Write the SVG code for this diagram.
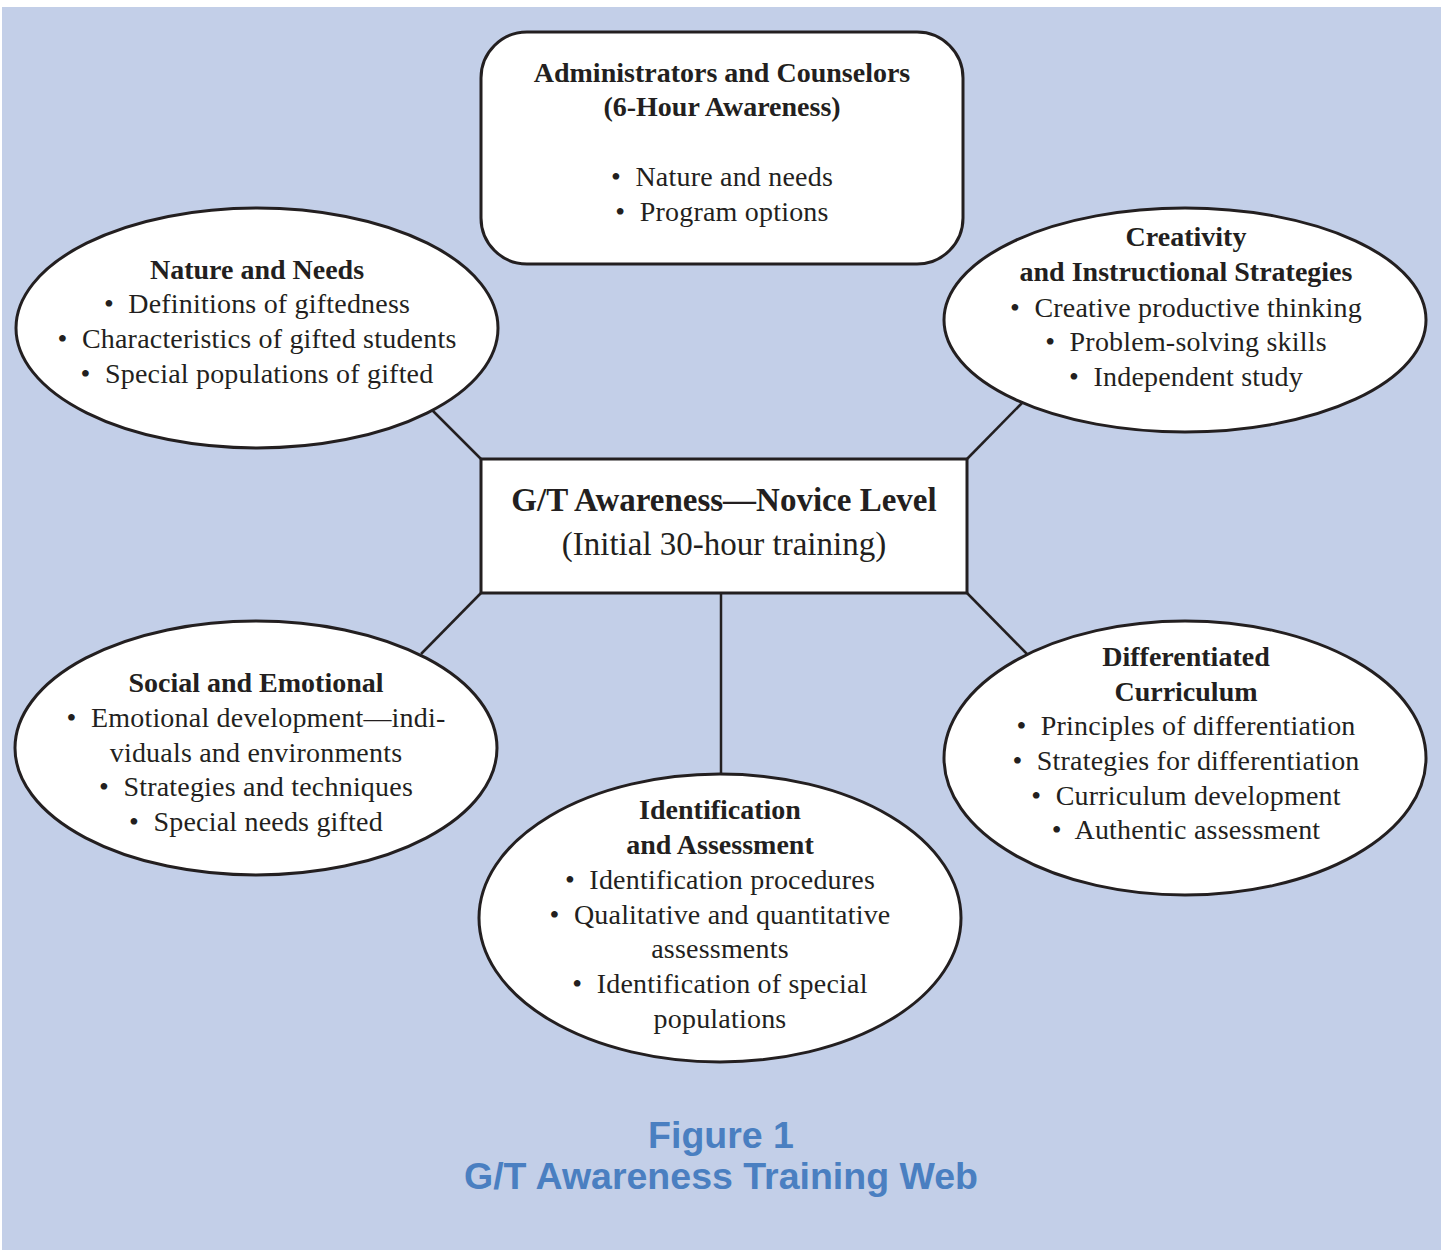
<svg xmlns="http://www.w3.org/2000/svg" width="1445" height="1250" viewBox="0 0 1445 1250">
<style>
.shape{fill:#fff;stroke:#231f20;stroke-width:3}
.conn line{stroke:#231f20;stroke-width:2.5}
text{font-family:"Liberation Serif","Times New Roman",serif;fill:#231f20;text-anchor:middle}
.t{font-size:28px;letter-spacing:0.2px}
.h{font-size:28px;font-weight:bold}
.c1{font-size:33px;font-weight:bold}
.c2{font-size:33px}
.cap{font-family:"Liberation Sans",Arial,sans-serif;font-weight:bold;font-size:37.5px;fill:#4a7fc1}
</style>
<rect x="0" y="0" width="1445" height="1250" fill="#fff"/>
<rect x="2" y="7" width="1439" height="1243" fill="#c3cfe8"/>
<g class="conn" id="connectors">
<line x1="432" y1="410" x2="481" y2="459"/>
<line x1="1023" y1="402" x2="967" y2="459"/>
<line x1="481" y1="593" x2="421" y2="654"/>
<line x1="967" y1="593" x2="1027" y2="654"/>
<line x1="721" y1="593" x2="721" y2="775"/>
</g>
<g id="admin">
<rect class="shape" x="481" y="32" width="482" height="232" rx="46"/>
<text class="h" x="722" y="82">Administrators and Counselors</text>
<text class="h" x="722" y="116">(6-Hour Awareness)</text>
<text class="t" x="722" y="186" xml:space="preserve">•  Nature and needs</text>
<text class="t" x="722" y="221" xml:space="preserve">•  Program options</text>
</g>
<g id="nature">
<ellipse class="shape" cx="257" cy="328" rx="241" ry="120"/>
<text class="h" x="257" y="279">Nature and Needs</text>
<text class="t" x="257" y="313" xml:space="preserve">•  Definitions of giftedness</text>
<text class="t" x="257" y="348" xml:space="preserve">•  Characteristics of gifted students</text>
<text class="t" x="257" y="383" xml:space="preserve">•  Special populations of gifted</text>
</g>
<g id="creativity">
<ellipse class="shape" cx="1185" cy="320" rx="241" ry="112"/>
<text class="h" x="1186" y="246">Creativity</text>
<text class="h" x="1186" y="281">and Instructional Strategies</text>
<text class="t" x="1186" y="317" xml:space="preserve">•  Creative productive thinking</text>
<text class="t" x="1186" y="351" xml:space="preserve">•  Problem-solving skills</text>
<text class="t" x="1186" y="386" xml:space="preserve">•  Independent study</text>
</g>
<g id="center">
<rect class="shape" x="481" y="459" width="486" height="134"/>
<text class="c1" x="724" y="511">G/T Awareness—Novice Level</text>
<text class="c2" x="724" y="555">(Initial 30-hour training)</text>
</g>
<g id="social">
<ellipse class="shape" cx="256" cy="748" rx="241" ry="127"/>
<text class="h" x="256" y="692">Social and Emotional</text>
<text class="t" x="256" y="727" xml:space="preserve">•  Emotional development—indi-</text>
<text class="t" x="256" y="762">viduals and environments</text>
<text class="t" x="256" y="796" xml:space="preserve">•  Strategies and techniques</text>
<text class="t" x="256" y="831" xml:space="preserve">•  Special needs gifted</text>
</g>
<g id="differentiated">
<ellipse class="shape" cx="1185" cy="758" rx="241" ry="137"/>
<text class="h" x="1186" y="666">Differentiated</text>
<text class="h" x="1186" y="701">Curriculum</text>
<text class="t" x="1186" y="735" xml:space="preserve">•  Principles of differentiation</text>
<text class="t" x="1186" y="770" xml:space="preserve">•  Strategies for differentiation</text>
<text class="t" x="1186" y="805" xml:space="preserve">•  Curriculum development</text>
<text class="t" x="1186" y="839" xml:space="preserve">•  Authentic assessment</text>
</g>
<g id="identification">
<ellipse class="shape" cx="720" cy="918" rx="241" ry="144"/>
<text class="h" x="720" y="819">Identification</text>
<text class="h" x="720" y="854">and Assessment</text>
<text class="t" x="720" y="889" xml:space="preserve">•  Identification procedures</text>
<text class="t" x="720" y="924" xml:space="preserve">•  Qualitative and quantitative</text>
<text class="t" x="720" y="958">assessments</text>
<text class="t" x="720" y="993" xml:space="preserve">•  Identification of special</text>
<text class="t" x="720" y="1028">populations</text>
</g>
<g id="caption">
<text class="cap" x="721" y="1148">Figure 1</text>
<text class="cap" x="721" y="1189">G/T Awareness Training Web</text>
</g>
</svg>
